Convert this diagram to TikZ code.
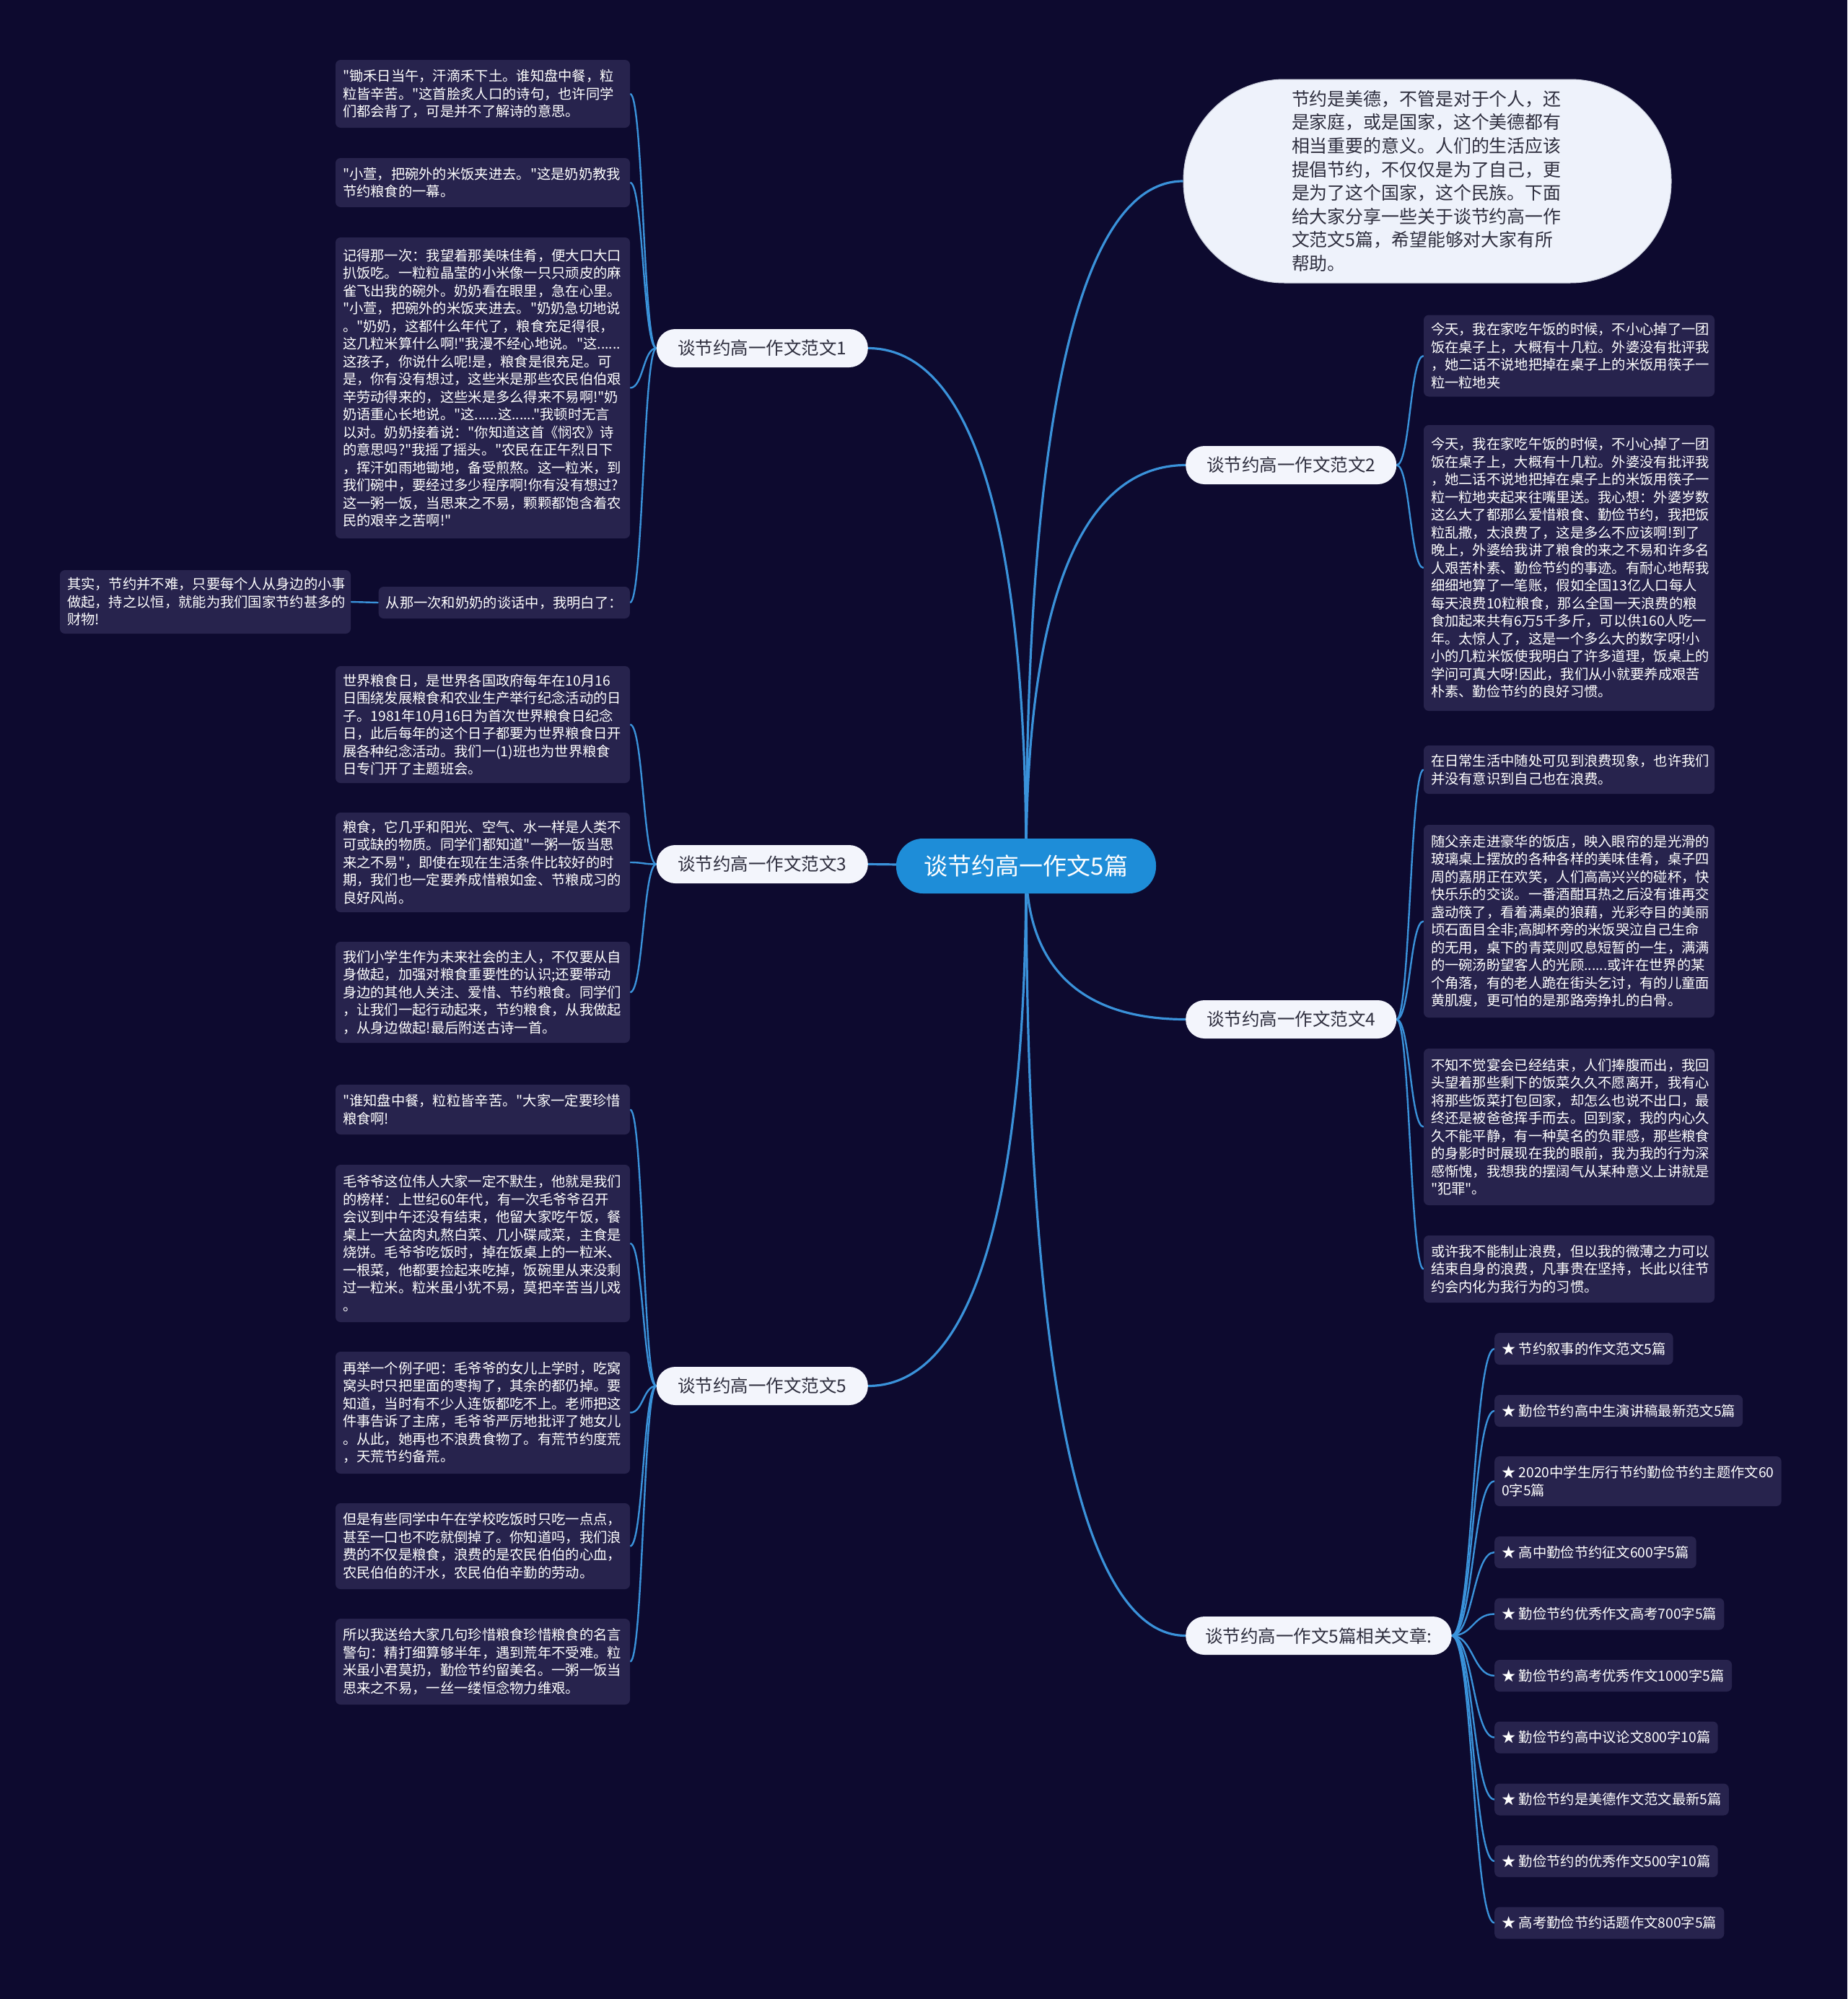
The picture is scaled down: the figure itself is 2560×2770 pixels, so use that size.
\documentclass[tikz,border=0pt]{standalone}
\usepackage{fontspec}
\setmainfont{Noto Sans CJK SC}[Ligatures=TeXOff]
\usetikzlibrary{calc}
\pgfdeclarelayer{bgl}
\pgfdeclarelayer{edgel}
\pgfsetlayers{bgl,edgel,main}
\definecolor{bgcol}{HTML}{0D0A2F}
\definecolor{leafcol}{HTML}{27234D}
\definecolor{linecol}{HTML}{3A92DA}
\definecolor{ctrcol}{HTML}{1E8DD8}
\definecolor{pillcol}{HTML}{F3F5FC}
\definecolor{pilltxt}{HTML}{2E2E3E}
\definecolor{introcol}{HTML}{EEF2FB}
\definecolor{introline}{HTML}{C8CDDA}
\tikzset{
  leaf/.style={rectangle, rounded corners=7pt, fill=leafcol, text=white, align=left,
    text width=388pt, inner xsep=10pt, inner ysep=0pt,
    font=\fontsize{19.3pt}{24.5pt}\selectfont},
  leafn/.style={leaf, text width=383pt},
  item/.style={rectangle, rounded corners=7pt, fill=leafcol, text=white, align=left,
    inner xsep=10pt, inner ysep=0pt, minimum height=44pt, anchor=west,
    font=\fontsize{19.3pt}{24.5pt}\selectfont},
  topic/.style={rectangle, rounded corners=26pt, fill=pillcol, text=pilltxt,
    inner xsep=27pt, inner ysep=0pt, minimum height=53pt,
    font=\fontsize{24.5pt}{30pt}\selectfont},
  ctr/.style={rectangle, rounded corners=37pt, fill=ctrcol, text=white,
    inner xsep=30pt, inner ysep=0pt, minimum height=76pt, minimum width=360pt,
    font=\fontsize{33pt}{40pt}\selectfont},
  intro/.style={rectangle, rounded corners=140pt, fill=introcol, draw=introline,
    line width=1pt, text=pilltxt, align=left, text width=376pt,
    minimum width=676pt, minimum height=282pt, inner sep=0pt,
    font=\fontsize{24.9pt}{32.6pt}\selectfont},
  lk/.style={draw=linecol, line width=2.4pt},
  mk/.style={draw=linecol, line width=3.2pt},
  sc/.style={to path={.. controls ($(\tikztostart)!0.5!(\tikztostart-|\tikztotarget)$)
      and ($(\tikztotarget)!0.5!(\tikztotarget-|\tikztostart)$) .. (\tikztotarget)}},
  qc/.style={to path={.. controls ($(\tikztostart)!0.8!(\tikztostart|-\tikztotarget)$)
      and ($(\tikztotarget)!0.5!(\tikztostart|-\tikztotarget)$) .. (\tikztotarget)}},
}
\begin{document}
\begin{tikzpicture}[x=1pt,y=-1pt]
\begin{pgfonlayer}{bgl}
\fill[bgcol] (0,0) rectangle (2560,2770);
\end{pgfonlayer}
\useasboundingbox (0,0) rectangle (2560,2770);

% center
\node[ctr] (c) at (1422,1200) {谈节约高一作文5篇};

% intro
\node[intro] (intro) at (1978,251) {节约是美德，不管是对于个人，还\\是家庭，或是国家，这个美德都有\\相当重要的意义。人们的生活应该\\提倡节约，不仅仅是为了自己，更\\是为了这个国家，这个民族。下面\\给大家分享一些关于谈节约高一作\\文范文5篇，希望能够对大家有所\\帮助。};

% topics
\node[topic, anchor=east, minimum width=293pt] (n1) at (1203,482.5) {谈节约高一作文范文1};
\node[topic, anchor=east, minimum width=293pt] (n3) at (1203,1197.5) {谈节约高一作文范文3};
\node[topic, anchor=east, minimum width=293pt] (n5) at (1203,1920.5) {谈节约高一作文范文5};
\node[topic, anchor=west, minimum width=292pt] (n2) at (1643,644.5) {谈节约高一作文范文2};
\node[topic, anchor=west, minimum width=292pt] (n4) at (1643,1412.5) {谈节约高一作文范文4};
\node[topic, anchor=west] (n6) at (1643,2266.5) {谈节约高一作文5篇相关文章:};

% branch 1
\node[leaf, minimum height=94pt] (L1a) at (669,130) {"锄禾日当午，汗滴禾下土。谁知盘中餐，粒\\粒皆辛苦。"这首脍炙人口的诗句，也许同学\\们都会背了，可是并不了解诗的意思。};
\node[leaf, minimum height=68pt] (L1b) at (669,253) {"小萱，把碗外的米饭夹进去。"这是奶奶教我\\节约粮食的一幕。};
\node[leaf, minimum height=417pt] (L1c) at (669,537.5) {记得那一次：我望着那美味佳肴，便大口大口\\扒饭吃。一粒粒晶莹的小米像一只只顽皮的麻\\雀飞出我的碗外。奶奶看在眼里，急在心里。\\"小萱，把碗外的米饭夹进去。"奶奶急切地说\\。"奶奶，这都什么年代了，粮食充足得很，\\这几粒米算什么啊!"我漫不经心地说。"这......\\这孩子，你说什么呢!是，粮食是很充足。可\\是，你有没有想过，这些米是那些农民伯伯艰\\辛劳动得来的，这些米是多么得来不易啊!"奶\\奶语重心长地说。"这......这......"我顿时无言\\以对。奶奶接着说："你知道这首《悯农》诗\\的意思吗?"我摇了摇头。"农民在正午烈日下\\，挥汗如雨地锄地，备受煎熬。这一粒米，到\\我们碗中，要经过多少程序啊!你有没有想过?\\这一粥一饭，当思来之不易，颗颗都饱含着农\\民的艰辛之苦啊!"};
\node[item, anchor=east, minimum height=44pt] (L1d) at (873,835) {从那一次和奶奶的谈话中，我明白了：};
\node[leafn, minimum height=88pt] (L1e) at (284.5,834) {其实，节约并不难，只要每个人从身边的小事\\做起，持之以恒，就能为我们国家节约甚多的\\财物!};

% branch 3
\node[leaf, minimum height=162pt] (L3a) at (669,1004) {世界粮食日，是世界各国政府每年在10月16\\日围绕发展粮食和农业生产举行纪念活动的日\\子。1981年10月16日为首次世界粮食日纪念\\日，此后每年的这个日子都要为世界粮食日开\\展各种纪念活动。我们一(1)班也为世界粮食\\日专门开了主题班会。};
\node[leaf, minimum height=138pt] (L3b) at (669,1195) {粮食，它几乎和阳光、空气、水一样是人类不\\可或缺的物质。同学们都知道"一粥一饭当思\\来之不易"，即使在现在生活条件比较好的时\\期，我们也一定要养成惜粮如金、节粮成习的\\良好风尚。};
\node[leaf, minimum height=140pt] (L3c) at (669,1375) {我们小学生作为未来社会的主人，不仅要从自\\身做起，加强对粮食重要性的认识;还要带动\\身边的其他人关注、爱惜、节约粮食。同学们\\，让我们一起行动起来，节约粮食，从我做起\\，从身边做起!最后附送古诗一首。};

% branch 5
\node[leaf, minimum height=69pt] (L5a) at (669,1537.5) {"谁知盘中餐，粒粒皆辛苦。"大家一定要珍惜\\粮食啊!};
\node[leaf, minimum height=218pt] (L5b) at (669,1723) {毛爷爷这位伟人大家一定不默生，他就是我们\\的榜样：上世纪60年代，有一次毛爷爷召开\\会议到中午还没有结束，他留大家吃午饭，餐\\桌上一大盆肉丸熬白菜、几小碟咸菜，主食是\\烧饼。毛爷爷吃饭时，掉在饭桌上的一粒米、\\一根菜，他都要捡起来吃掉，饭碗里从来没剩\\过一粒米。粒米虽小犹不易，莫把辛苦当儿戏\\。};
\node[leaf, minimum height=169pt] (L5c) at (669,1957.5) {再举一个例子吧：毛爷爷的女儿上学时，吃窝\\窝头时只把里面的枣掏了，其余的都仍掉。要\\知道，当时有不少人连饭都吃不上。老师把这\\件事告诉了主席，毛爷爷严厉地批评了她女儿\\。从此，她再也不浪费食物了。有荒节约度荒\\，天荒节约备荒。};
\node[leaf, minimum height=119pt] (L5d) at (669,2142.5) {但是有些同学中午在学校吃饭时只吃一点点，\\甚至一口也不吃就倒掉了。你知道吗，我们浪\\费的不仅是粮食，浪费的是农民伯伯的心血，\\农民伯伯的汗水，农民伯伯辛勤的劳动。};
\node[leaf, minimum height=119pt] (L5e) at (669,2302.5) {所以我送给大家几句珍惜粮食珍惜粮食的名言\\警句：精打细算够半年，遇到荒年不受难。粒\\米虽小君莫扔，勤俭节约留美名。一粥一饭当\\思来之不易，一丝一缕恒念物力维艰。};

% branch 2
\node[leafn, minimum height=113pt] (R2a) at (2174.5,493) {今天，我在家吃午饭的时候，不小心掉了一团\\饭在桌子上，大概有十几粒。外婆没有批评我\\，她二话不说地把掉在桌子上的米饭用筷子一\\粒一粒地夹};
\node[leafn, minimum height=396pt] (R2b) at (2174.5,787) {今天，我在家吃午饭的时候，不小心掉了一团\\饭在桌子上，大概有十几粒。外婆没有批评我\\，她二话不说地把掉在桌子上的米饭用筷子一\\粒一粒地夹起来往嘴里送。我心想：外婆岁数\\这么大了都那么爱惜粮食、勤俭节约，我把饭\\粒乱撒，太浪费了，这是多么不应该啊!到了\\晚上，外婆给我讲了粮食的来之不易和许多名\\人艰苦朴素、勤俭节约的事迹。有耐心地帮我\\细细地算了一笔账，假如全国13亿人口每人\\每天浪费10粒粮食，那么全国一天浪费的粮\\食加起来共有6万5千多斤，可以供160人吃一\\年。太惊人了，这是一个多么大的数字呀!小\\小的几粒米饭使我明白了许多道理，饭桌上的\\学问可真大呀!因此，我们从小就要养成艰苦\\朴素、勤俭节约的良好习惯。};

% branch 4
\node[leafn, minimum height=67pt] (R4a) at (2174.5,1066.5) {在日常生活中随处可见到浪费现象，也许我们\\并没有意识到自己也在浪费。};
\node[leafn, minimum height=267pt] (R4b) at (2174.5,1276.5) {随父亲走进豪华的饭店，映入眼帘的是光滑的\\玻璃桌上摆放的各种各样的美味佳肴，桌子四\\周的嘉朋正在欢笑，人们高高兴兴的碰杯，快\\快乐乐的交谈。一番酒酣耳热之后没有谁再交\\盏动筷了，看着满桌的狼藉，光彩夺目的美丽\\顷石面目全非;高脚杯旁的米饭哭泣自己生命\\的无用，桌下的青菜则叹息短暂的一生，满满\\的一碗汤盼望客人的光顾......或许在世界的某\\个角落，有的老人跪在街头乞讨，有的儿童面\\黄肌瘦，更可怕的是那路旁挣扎的白骨。};
\node[leafn, minimum height=217pt] (R4c) at (2174.5,1561.5) {不知不觉宴会已经结束，人们捧腹而出，我回\\头望着那些剩下的饭菜久久不愿离开，我有心\\将那些饭菜打包回家，却怎么也说不出口，最\\终还是被爸爸挥手而去。回到家，我的内心久\\久不能平静，有一种莫名的负罪感，那些粮食\\的身影时时展现在我的眼前，我为我的行为深\\感惭愧，我想我的摆阔气从某种意义上讲就是\\"犯罪"。};
\node[leafn, minimum height=93pt] (R4d) at (2174.5,1758.5) {或许我不能制止浪费，但以我的微薄之力可以\\结束自身的浪费，凡事贵在坚持，长此以往节\\约会内化为我行为的习惯。};

% related
\node[item] (A1) at (2071,1869) {★ 节约叙事的作文范文5篇};
\node[item] (A2) at (2071,1955) {★ 勤俭节约高中生演讲稿最新范文5篇};
\node[item, minimum height=69pt] (A3) at (2071,2052.5) {★ 2020中学生厉行节约勤俭节约主题作文60\\0字5篇};
\node[item] (A4) at (2071,2151) {★ 高中勤俭节约征文600字5篇};
\node[item] (A5) at (2071,2236.5) {★ 勤俭节约优秀作文高考700字5篇};
\node[item] (A6) at (2071,2322) {★ 勤俭节约高考优秀作文1000字5篇};
\node[item] (A7) at (2071,2407.5) {★ 勤俭节约高中议论文800字10篇};
\node[item] (A8) at (2071,2493.5) {★ 勤俭节约是美德作文范文最新5篇};
\node[item] (A9) at (2071,2579) {★ 勤俭节约的优秀作文500字10篇};
\node[item] (A10) at (2071,2664.5) {★ 高考勤俭节约话题作文800字5篇};

\begin{pgfonlayer}{edgel}
\draw[mk] (c.center) to[qc] (intro.west);
\draw[mk] (c.center) to[qc] (n1.east);
\draw[mk] (c.center) to[qc] (n2.west);
\draw[mk] (c.center) -- (n3.east);
\draw[mk] (c.center) to[qc] (n4.west);
\draw[mk] (c.center) to[qc] (n5.east);
\draw[mk] (c.center) to[qc] (n6.west);
\foreach \t in {L1a,L1b,L1c,L1d} \draw[lk] (n1.west) to[sc] (\t.east);
\draw[lk] (L1d.west) -- (L1e.east);
\foreach \t in {L3a,L3b,L3c} \draw[lk] (n3.west) to[sc] (\t.east);
\foreach \t in {L5a,L5b,L5c,L5d,L5e} \draw[lk] (n5.west) to[sc] (\t.east);
\foreach \t in {R2a,R2b} \draw[lk] (n2.east) to[sc] (\t.west);
\foreach \t in {R4a,R4b,R4c,R4d} \draw[lk] (n4.east) to[sc] (\t.west);
\foreach \t in {A1,A2,A3,A4,A5,A6,A7,A8,A9,A10} \draw[lk] (n6.east) to[sc] (\t.west);
\end{pgfonlayer}
\end{tikzpicture}
\end{document}
